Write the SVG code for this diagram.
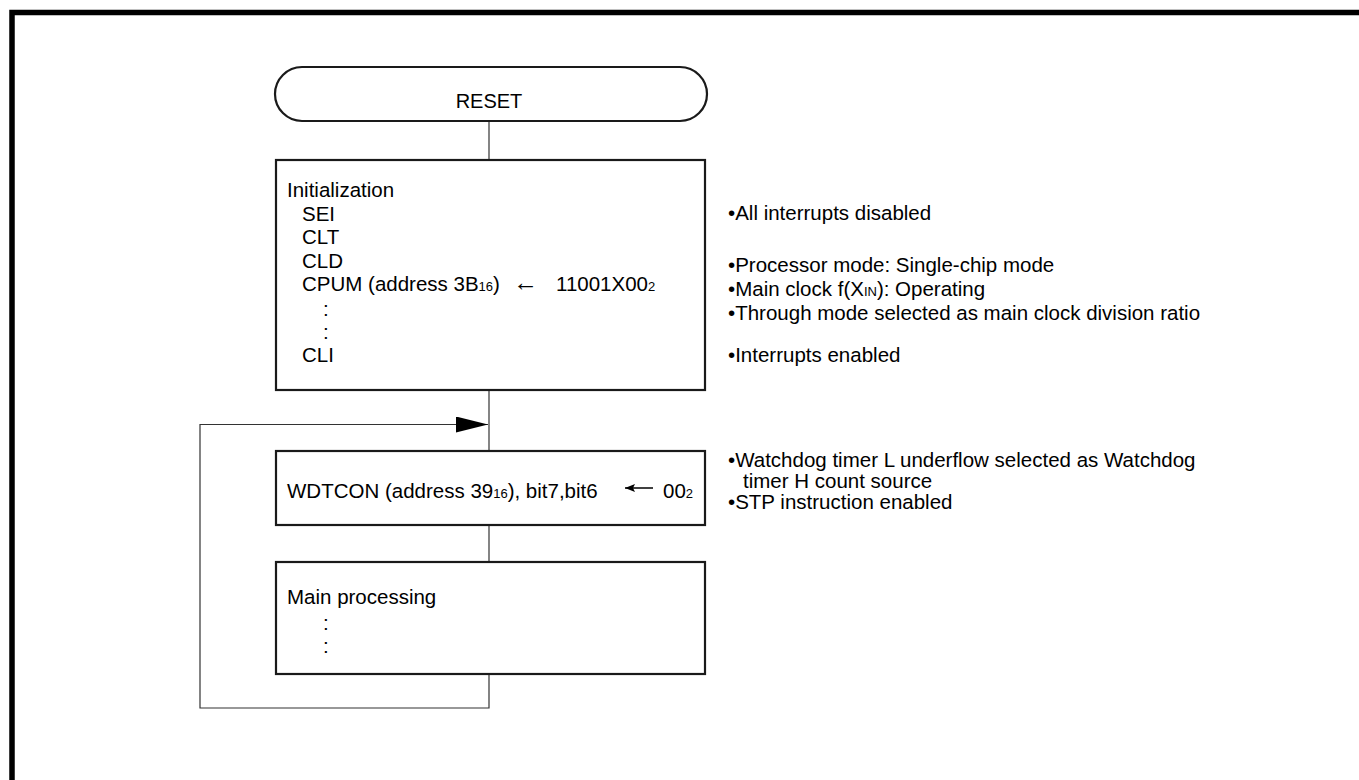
<svg xmlns="http://www.w3.org/2000/svg" width="1359" height="780" viewBox="0 0 1359 780">
<defs>
<style>
text{font-family:"Liberation Sans",Arial,sans-serif;font-size:20.5px;fill:#000}
.t{font-size:20px}
.sub{font-size:13px}
.arr{font-size:25px}
.box{fill:#fff;stroke:#1a1a1a;stroke-width:2.2}
.con{fill:none;stroke:#333;stroke-width:1.2}
</style>
<marker id="ah" markerUnits="userSpaceOnUse" markerWidth="32" markerHeight="16" refX="32" refY="8" orient="auto">
<path d="M0,0 L32,8 L0,16 Z" fill="#000"/>
</marker>
<marker id="sh" markerUnits="userSpaceOnUse" markerWidth="10" markerHeight="10" refX="10" refY="5" orient="auto">
<path d="M0,1 L10,5 L0,9 L2,5 Z" fill="#000"/>
</marker>
</defs>
<rect width="1359" height="780" fill="#fff"/>
<path d="M12,780 V12.5 H1359" fill="none" stroke="#000" stroke-width="5.5"/>
<g id="connectors">
<line class="con" x1="489" y1="121" x2="489" y2="160"/>
<line class="con" x1="489" y1="390" x2="489" y2="451"/>
<line class="con" x1="489" y1="525" x2="489" y2="562"/>
<path class="con" d="M489,674 V708 H200 V424.5 H488" marker-end="url(#ah)"/>
</g>
<g id="reset">
<rect class="box" x="275" y="67" width="432" height="54" rx="27" ry="27"/>
<text class="t" x="489" y="108" text-anchor="middle">RESET</text>
</g>
<g id="init">
<rect class="box" x="276" y="160" width="429" height="230"/>
<text x="287" y="197">Initialization</text>
<text x="302" y="221">SEI</text>
<text x="302" y="244">CLT</text>
<text x="302" y="268">CLD</text>
<text x="302" y="291">CPUM (address 3B<tspan class="sub">16</tspan>)<tspan class="arr" x="513">←</tspan><tspan x="556">11001X00</tspan><tspan class="sub">2</tspan></text>
<text x="323" y="316">:</text>
<text x="323" y="339">:</text>
<text x="302" y="362">CLI</text>
</g>
<g id="init-notes">
<text x="728" y="220">•All interrupts disabled</text>
<text x="728" y="272">•Processor mode: Single-chip mode</text>
<text x="728" y="296">•Main clock f(X<tspan class="sub">IN</tspan>): Operating</text>
<text x="728" y="320">•Through mode selected as main clock division ratio</text>
<text x="728" y="362">•Interrupts enabled</text>
</g>
<g id="wdtcon">
<rect class="box" x="276" y="451" width="429" height="74"/>
<text x="287" y="498">WDTCON (address 39<tspan class="sub">16</tspan>), bit7,bit6</text>
<line x1="653" y1="488" x2="625" y2="488" stroke="#000" stroke-width="1.5" marker-end="url(#sh)"/>
<text x="663" y="498">00<tspan class="sub">2</tspan></text>
</g>
<g id="wdt-notes">
<text x="728" y="467">•Watchdog timer L underflow selected as Watchdog</text>
<text x="743" y="488">timer H count source</text>
<text x="728" y="509">•STP instruction enabled</text>
</g>
<g id="main">
<rect class="box" x="276" y="562" width="429" height="112"/>
<text x="287" y="604">Main processing</text>
<text x="323" y="630">:</text>
<text x="323" y="653">:</text>
</g>
</svg>
